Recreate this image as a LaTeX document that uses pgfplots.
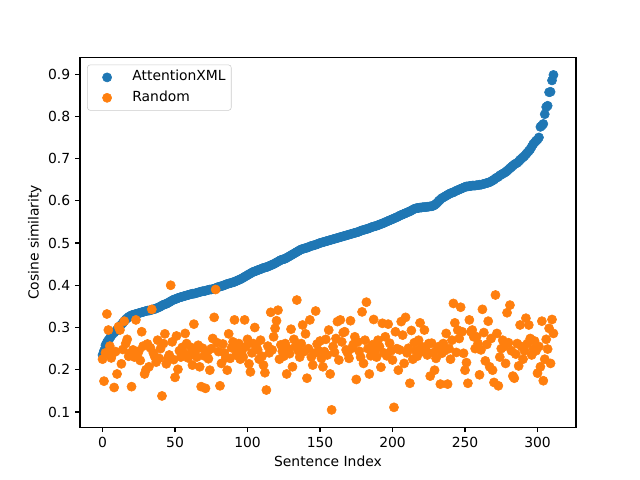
\documentclass[border=0pt]{standalone}
\usepackage{fontspec}
\setmainfont{DejaVu Sans}
\usepackage{pgfplots}
\pgfplotsset{compat=1.18}
\definecolor{c1}{HTML}{1F77B4}
\definecolor{c2}{HTML}{FF7F0E}
\begin{document}
\begin{tikzpicture}
\path[use as bounding box] (-57.6pt,-38.016pt) rectangle (403.2pt,307.584pt);
\begin{axis}[
  at={(0pt,0pt)}, anchor=south west,
  scale only axis, width=357.12pt, height=266.112pt,
  xmin=-15.55, xmax=326.55, ymin=0.064, ymax=0.939,
  xtick={0,50,100,150,200,250,300},
  ytick={0.1,0.2,0.3,0.4,0.5,0.6,0.7,0.8,0.9},
  yticklabel style={/pgf/number format/.cd, fixed, fixed zerofill, precision=1},
  /pgf/number format/assume math mode=true,
  tick align=outside, major tick length=3.5pt,
  tick style={black, line width=0.8pt},
  axis line style={black, line width=0.8pt},
  xtick pos=bottom, ytick pos=left,
  ticklabel style={font=\fontsize{10}{12}\selectfont},
  label style={font=\fontsize{10}{12}\selectfont},
  xlabel={Sentence Index}, ylabel={Cosine similarity},
  xlabel style={at={(axis description cs:0.5,-0.1052)}, anchor=base, inner sep=0pt},
  ylabel style={at={(axis description cs:-0.0832,0.5)}, anchor=base, inner sep=0pt},
  legend cell align=left,
  legend style={at={(axis description cs:0.0143,0.981)}, anchor=north west,
    draw=black!20, rounded corners=2pt, fill=white, fill opacity=0.8, text opacity=1,
    inner xsep=4pt, inner ysep=4pt, row sep=4.7pt,
    nodes={inner sep=0pt, text height=7.5pt, text depth=2.5pt},
    font=\fontsize{10}{12}\selectfont},
]
\addplot[only marks, mark=*, mark size=3.3pt, color=c1,
  legend image code/.code={\path (0pt,0pt) (28pt,0pt); \fill[c1, fill opacity=1] (10pt,0pt) circle (3.3pt);}]
coordinates {
(0,0.235)(1,0.245)(2,0.258)(3,0.265)(4,0.270)(5,0.275)(6,0.280)(7,0.285)(8,0.288)(9,0.291)
(10,0.295)(11,0.299)(12,0.303)(13,0.307)(14,0.311)(15,0.315)(16,0.319)(17,0.322)(18,0.325)(19,0.327)
(20,0.329)(21,0.330)(22,0.331)(23,0.332)(24,0.333)(25,0.334)(26,0.335)(27,0.336)(28,0.337)(29,0.338)
(30,0.339)(31,0.340)(32,0.340)(33,0.341)(34,0.342)(35,0.343)(36,0.344)(37,0.345)(38,0.347)(39,0.348)
(40,0.350)(41,0.352)(42,0.354)(43,0.355)(44,0.356)(45,0.358)(46,0.360)(47,0.362)(48,0.364)(49,0.366)
(50,0.367)(51,0.368)(52,0.370)(53,0.371)(54,0.372)(55,0.373)(56,0.374)(57,0.375)(58,0.376)(59,0.377)
(60,0.378)(61,0.379)(62,0.380)(63,0.380)(64,0.381)(65,0.382)(66,0.383)(67,0.384)(68,0.385)(69,0.386)
(70,0.386)(71,0.387)(72,0.388)(73,0.389)(74,0.390)(75,0.390)(76,0.391)(77,0.392)(78,0.393)(79,0.395)
(80,0.396)(81,0.397)(82,0.398)(83,0.399)(84,0.400)(85,0.402)(86,0.403)(87,0.404)(88,0.405)(89,0.406)
(90,0.407)(91,0.408)(92,0.410)(93,0.411)(94,0.413)(95,0.414)(96,0.416)(97,0.418)(98,0.420)(99,0.422)
(100,0.424)(101,0.426)(102,0.428)(103,0.430)(104,0.432)(105,0.433)(106,0.434)(107,0.436)(108,0.437)(109,0.438)
(110,0.440)(111,0.441)(112,0.442)(113,0.443)(114,0.444)(115,0.446)(116,0.447)(117,0.449)(118,0.450)(119,0.452)
(120,0.454)(121,0.456)(122,0.458)(123,0.460)(124,0.461)(125,0.462)(126,0.463)(127,0.465)(128,0.467)(129,0.469)
(130,0.471)(131,0.473)(132,0.475)(133,0.477)(134,0.479)(135,0.481)(136,0.483)(137,0.485)(138,0.486)(139,0.487)
(140,0.488)(141,0.489)(142,0.490)(143,0.492)(144,0.493)(145,0.494)(146,0.495)(147,0.496)(148,0.497)(149,0.499)
(150,0.500)(151,0.501)(152,0.502)(153,0.503)(154,0.504)(155,0.505)(156,0.506)(157,0.507)(158,0.508)(159,0.509)
(160,0.510)(161,0.511)(162,0.512)(163,0.513)(164,0.514)(165,0.515)(166,0.516)(167,0.517)(168,0.518)(169,0.519)
(170,0.520)(171,0.521)(172,0.522)(173,0.523)(174,0.524)(175,0.525)(176,0.526)(177,0.527)(178,0.529)(179,0.530)
(180,0.531)(181,0.532)(182,0.533)(183,0.534)(184,0.535)(185,0.537)(186,0.538)(187,0.539)(188,0.540)(189,0.541)
(190,0.542)(191,0.544)(192,0.545)(193,0.546)(194,0.548)(195,0.549)(196,0.551)(197,0.552)(198,0.554)(199,0.555)
(200,0.557)(201,0.558)(202,0.560)(203,0.561)(204,0.563)(205,0.565)(206,0.566)(207,0.568)(208,0.569)(209,0.571)
(210,0.572)(211,0.574)(212,0.575)(213,0.577)(214,0.579)(215,0.581)(216,0.582)(217,0.583)(218,0.583)(219,0.584)
(220,0.584)(221,0.585)(222,0.585)(223,0.585)(224,0.586)(225,0.586)(226,0.587)(227,0.587)(228,0.588)(229,0.590)
(230,0.593)(231,0.596)(232,0.600)(233,0.603)(234,0.606)(235,0.608)(236,0.610)(237,0.612)(238,0.614)(239,0.616)
(240,0.618)(241,0.619)(242,0.620)(243,0.622)(244,0.624)(245,0.625)(246,0.627)(247,0.628)(248,0.630)(249,0.631)
(250,0.633)(251,0.634)(252,0.634)(253,0.635)(254,0.635)(255,0.636)(256,0.636)(257,0.636)(258,0.637)(259,0.637)
(260,0.638)(261,0.638)(262,0.639)(263,0.640)(264,0.641)(265,0.642)(266,0.643)(267,0.644)(268,0.646)(269,0.648)
(270,0.650)(271,0.653)(272,0.655)(273,0.657)(274,0.660)(275,0.662)(276,0.664)(277,0.666)(278,0.668)(279,0.671)
(280,0.674)(281,0.677)(282,0.680)(283,0.683)(284,0.686)(285,0.688)(286,0.690)(287,0.693)(288,0.697)(289,0.700)
(290,0.703)(291,0.706)(292,0.710)(293,0.714)(294,0.718)(295,0.722)(296,0.728)(297,0.734)(298,0.738)(299,0.742)
(300,0.745)(301,0.750)(302,0.775)(303,0.778)(304,0.782)(305,0.805)(306,0.822)(307,0.825)(308,0.857)(309,0.858)
(310,0.885)(311,0.898)
};
\addlegendentry{AttentionXML}
\addplot[only marks, mark=*, mark size=3.3pt, color=c2,
  legend image code/.code={\path (0pt,0pt) (28pt,0pt); \fill[c2, fill opacity=1] (10pt,0pt) circle (3.3pt);}]
coordinates {
(0,0.225)(1,0.173)(2,0.240)(3,0.332)(4,0.294)(5,0.256)(6,0.228)(7,0.239)(8,0.158)(9,0.243)
(10,0.190)(11,0.302)(12,0.294)(13,0.214)(14,0.248)(15,0.315)(16,0.262)(17,0.272)(18,0.232)(19,0.239)
(20,0.160)(21,0.247)(22,0.230)(23,0.318)(24,0.235)(25,0.244)(26,0.222)(27,0.290)(28,0.256)(29,0.190)
(30,0.200)(31,0.261)(32,0.207)(33,0.252)(34,0.343)(35,0.240)(36,0.231)(37,0.218)(38,0.270)(39,0.227)
(40,0.250)(41,0.138)(42,0.262)(43,0.285)(44,0.214)(45,0.227)(46,0.235)(47,0.400)(48,0.266)(49,0.224)
(50,0.182)(51,0.280)(52,0.201)(53,0.245)(54,0.230)(55,0.253)(56,0.240)(57,0.286)(58,0.262)(59,0.228)
(60,0.235)(61,0.253)(62,0.211)(63,0.308)(64,0.244)(65,0.230)(66,0.258)(67,0.207)(68,0.160)(69,0.251)
(70,0.233)(71,0.156)(72,0.240)(73,0.226)(74,0.199)(75,0.250)(76,0.274)(77,0.324)(78,0.390)(79,0.264)
(80,0.243)(81,0.162)(82,0.215)(83,0.261)(84,0.240)(85,0.228)(86,0.199)(87,0.285)(88,0.227)(89,0.252)
(90,0.266)(91,0.318)(92,0.235)(93,0.248)(94,0.262)(95,0.225)(96,0.243)(97,0.230)(98,0.318)(99,0.255)
(100,0.272)(101,0.214)(102,0.195)(103,0.240)(104,0.262)(105,0.300)(106,0.256)(107,0.247)(108,0.225)(109,0.270)
(110,0.232)(111,0.211)(112,0.193)(113,0.152)(114,0.256)(115,0.240)(116,0.336)(117,0.247)(118,0.278)(119,0.298)
(120,0.316)(121,0.341)(122,0.225)(123,0.259)(124,0.244)(125,0.232)(126,0.262)(127,0.190)(128,0.250)(129,0.238)
(130,0.296)(131,0.207)(132,0.272)(133,0.255)(134,0.365)(135,0.245)(136,0.230)(137,0.262)(138,0.306)(139,0.243)
(140,0.285)(141,0.180)(142,0.250)(143,0.318)(144,0.230)(145,0.211)(146,0.239)(147,0.339)(148,0.261)(149,0.245)
(150,0.268)(151,0.227)(152,0.207)(153,0.243)(154,0.272)(155,0.235)(156,0.294)(157,0.190)(158,0.105)(159,0.255)
(160,0.241)(161,0.274)(162,0.314)(163,0.223)(164,0.318)(165,0.266)(166,0.288)(167,0.290)(168,0.247)(169,0.240)
(170,0.227)(171,0.316)(172,0.251)(173,0.260)(174,0.278)(175,0.177)(176,0.266)(177,0.244)(178,0.230)(179,0.337)
(180,0.215)(181,0.270)(182,0.360)(183,0.250)(184,0.190)(185,0.233)(186,0.259)(187,0.319)(188,0.245)(189,0.230)
(190,0.270)(191,0.255)(192,0.206)(193,0.310)(194,0.240)(195,0.278)(196,0.233)(197,0.308)(198,0.263)(199,0.245)
(200,0.223)(201,0.111)(202,0.290)(203,0.250)(204,0.199)(205,0.247)(206,0.314)(207,0.282)(208,0.215)(209,0.324)
(210,0.240)(211,0.251)(212,0.168)(213,0.293)(214,0.225)(215,0.264)(216,0.245)(217,0.232)(218,0.270)(219,0.311)
(220,0.255)(221,0.243)(222,0.294)(223,0.248)(224,0.235)(225,0.262)(226,0.185)(227,0.263)(228,0.240)(229,0.199)
(230,0.227)(231,0.250)(232,0.255)(233,0.166)(234,0.239)(235,0.262)(236,0.245)(237,0.286)(238,0.166)(239,0.250)
(240,0.225)(241,0.270)(242,0.357)(243,0.311)(244,0.241)(245,0.294)(246,0.274)(247,0.348)(248,0.290)(249,0.239)
(250,0.199)(251,0.217)(252,0.168)(253,0.318)(254,0.290)(255,0.294)(256,0.278)(257,0.250)(258,0.278)(259,0.262)
(260,0.188)(261,0.247)(262,0.343)(263,0.288)(264,0.221)(265,0.260)(266,0.315)(267,0.207)(268,0.274)(269,0.199)
(270,0.170)(271,0.377)(272,0.286)(273,0.162)(274,0.230)(275,0.250)(276,0.270)(277,0.255)(278,0.215)(279,0.335)
(280,0.264)(281,0.353)(282,0.245)(283,0.185)(284,0.180)(285,0.237)(286,0.262)(287,0.209)(288,0.306)(289,0.255)
(290,0.225)(291,0.245)(292,0.322)(293,0.262)(294,0.306)(295,0.274)(296,0.235)(297,0.249)(298,0.268)(299,0.245)
(300,0.192)(301,0.255)(302,0.207)(303,0.315)(304,0.174)(305,0.225)(306,0.272)(307,0.249)(308,0.298)(309,0.215)
(310,0.319)(311,0.286)
};
\addlegendentry{Random}
\end{axis}
\end{tikzpicture}
\end{document}
